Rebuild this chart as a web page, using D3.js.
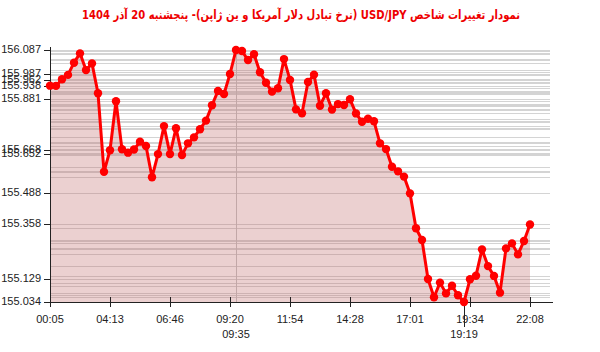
<!DOCTYPE html>
<html>
<head>
<meta charset="utf-8">
<script src="https://cdnjs.cloudflare.com/ajax/libs/d3/7.8.5/d3.min.js"></script>
<style>
    html, body { margin: 0; padding: 0; background: #fff; }
    svg { display: block; }
</style>
</head>
<body>
<div id="chart"></div>
<script>
// USD/JPY intraday values, one point every ~15 minutes
const values = [
    155.938, 155.937, 155.965, 155.983, 156.034, 156.073, 156.003, 156.031, 155.906, 155.578,
    155.668, 155.873, 155.672, 155.658, 155.671, 155.704, 155.686, 155.555, 155.652, 155.769,
    155.652, 155.760, 155.648, 155.697, 155.722, 155.756, 155.792, 155.856, 155.916, 155.903,
    155.987, 156.087, 156.083, 156.045, 156.069, 155.994, 155.950, 155.913, 155.927, 156.049,
    155.962, 155.839, 155.823, 155.953, 155.984, 155.854, 155.906, 155.838, 155.861, 155.857,
    155.881, 155.822, 155.787, 155.800, 155.789, 155.697, 155.673, 155.599, 155.580, 155.558,
    155.488, 155.342, 155.293, 155.130, 155.054, 155.115, 155.070, 155.102, 155.062, 155.034,
    155.129, 155.144, 155.254, 155.184, 155.143, 155.073, 155.258, 155.279, 155.233, 155.289,
    155.358
];

// x tick labels every 10th point
const tickIndex = [0, 10, 20, 30, 40, 50, 60, 70, 80];
const tickLabels = ['00:05', '04:13', '06:46', '09:20', '11:54', '14:28', '17:01', '19:34', '22:08'];

// times of the max and min points
const maxLabel = '09:35';
const minLabel = '19:19';

const title = 'نمودار تغییرات شاخص USD/JPY (نرخ تبادل دلار آمریکا و ین ژاپن)- پنجشنبه  20 آذر 1404';

const W = 600, H = 352;
const m = { left: 50, right: 530, top: 50, bottom: 302 };

const svg = d3.select('#chart').append('svg')
    .attr('width', W)
    .attr('height', H);

const x = d3.scaleLinear().domain([0, values.length - 1]).range([m.left, m.right]);
const y = d3.scaleLinear().domain([d3.min(values), d3.max(values)]).range([m.bottom, m.top]);

const maxIdx = d3.maxIndex(values);
const minIdx = d3.minIndex(values);

// horizontal grid line at every value
svg.append('g')
    .selectAll('line')
    .data(values)
    .join('line')
    .attr('x1', m.left)
    .attr('x2', 550)
    .attr('y1', d => Math.round(y(d)) + 0.5)
    .attr('y2', d => Math.round(y(d)) + 0.5)
    .attr('stroke', '#d4d4d4')
    .attr('stroke-width', 1);

// vertical marker at the max
svg.append('line')
    .attr('x1', Math.round(x(maxIdx)) + 0.5)
    .attr('x2', Math.round(x(maxIdx)) + 0.5)
    .attr('y1', m.top - 3)
    .attr('y2', m.bottom)
    .attr('stroke', '#c4c4c4');

// area under the line
const area = d3.area()
    .x((d, i) => x(i))
    .y0(m.bottom)
    .y1(d => y(d));

svg.append('path')
    .datum(values)
    .attr('d', area)
    .attr('fill', 'rgb(190,100,100)')
    .attr('fill-opacity', 0.3);

// axes
svg.append('line')
    .attr('x1', m.left + 0.5).attr('x2', m.left + 0.5)
    .attr('y1', m.top - 3).attr('y2', m.bottom + 5)
    .attr('stroke', '#222');
svg.append('line')
    .attr('x1', m.left).attr('x2', 553)
    .attr('y1', m.bottom + 0.5).attr('y2', m.bottom + 0.5)
    .attr('stroke', '#222');

// y ticks: values at the x ticks plus max and min
const yTicks = tickIndex.map(i => values[i]).concat([values[maxIdx], values[minIdx]]);

const yAxis = svg.append('g');
yAxis.selectAll('line')
    .data(yTicks)
    .join('line')
    .attr('x1', 44).attr('x2', m.left)
    .attr('y1', d => Math.round(y(d)) + 0.5)
    .attr('y2', d => Math.round(y(d)) + 0.5)
    .attr('stroke', '#222');
yAxis.selectAll('text')
    .data(yTicks)
    .join('text')
    .attr('x', 41)
    .attr('y', d => y(d) - 1)
    .attr('dy', '0.35em')
    .attr('text-anchor', 'end')
    .attr('font-family', 'Liberation Sans, Arial, sans-serif')
    .attr('font-size', 11)
    .attr('fill', '#222')
    .text(d => d3.format('.3f')(d));

// x ticks
const xAxis = svg.append('g');
xAxis.selectAll('line')
    .data(tickIndex)
    .join('line')
    .attr('x1', i => Math.round(x(i)) + 0.5)
    .attr('x2', i => Math.round(x(i)) + 0.5)
    .attr('y1', m.bottom - 5)
    .attr('y2', m.bottom + 5)
    .attr('stroke', '#222');
xAxis.selectAll('text')
    .data(tickIndex)
    .join('text')
    .attr('x', i => x(i))
    .attr('y', 319)
    .attr('dy', '0.35em')
    .attr('text-anchor', 'middle')
    .attr('font-family', 'Liberation Sans, Arial, sans-serif')
    .attr('font-size', 11)
    .attr('fill', '#222')
    .text((d, k) => tickLabels[k]);

// min marker tick runs down to the second label row
svg.append('line')
    .attr('x1', Math.round(x(minIdx)) + 0.5)
    .attr('x2', Math.round(x(minIdx)) + 0.5)
    .attr('y1', y(values[minIdx]))
    .attr('y2', 327)
    .attr('stroke', '#222');

svg.selectAll('text.mark')
    .data([[maxIdx, maxLabel], [minIdx, minLabel]])
    .join('text')
    .attr('class', 'mark')
    .attr('x', d => x(d[0]))
    .attr('y', 334)
    .attr('dy', '0.35em')
    .attr('text-anchor', 'middle')
    .attr('font-family', 'Liberation Sans, Arial, sans-serif')
    .attr('font-size', 11)
    .attr('fill', '#222')
    .text(d => d[1]);

// line and points
const line = d3.line()
    .x((d, i) => x(i))
    .y(d => y(d));

svg.append('path')
    .datum(values)
    .attr('d', line)
    .attr('fill', 'none')
    .attr('stroke', '#f00')
    .attr('stroke-width', 3)
    .attr('stroke-linejoin', 'round');

svg.append('g')
    .selectAll('circle')
    .data(values)
    .join('circle')
    .attr('cx', (d, i) => x(i))
    .attr('cy', d => y(d))
    .attr('r', 4.2)
    .attr('fill', '#f00');

// title
svg.append('text')
    .attr('x', 301)
    .attr('y', 15)
    .attr('dy', '0.35em')
    .attr('text-anchor', 'middle')
    .attr('direction', 'rtl')
    .attr('font-family', 'DejaVu Sans, sans-serif')
    .attr('font-weight', 'bold')
    .attr('font-size', 12.5)
    .attr('textLength', 438)
    .attr('lengthAdjust', 'spacingAndGlyphs')
    .attr('fill', '#e00')
    .text(title);
</script>
</body>
</html>
